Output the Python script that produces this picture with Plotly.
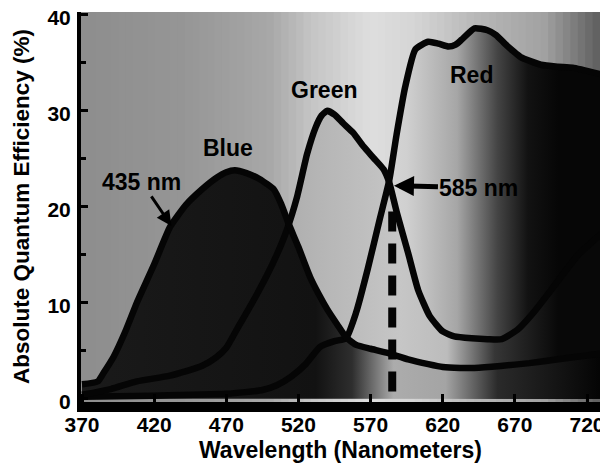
import numpy as np
import plotly.graph_objects as go

# ---- data ----
blue_wl = [370, 381, 385, 392, 400, 408, 420, 431, 442, 453, 463, 470, 476, 484, 493, 503, 508, 513, 520, 528, 534, 540, 547, 553, 560, 570, 581, 596, 610, 620, 632, 642, 660, 680, 700, 730]
blue_qe = [1.5, 1.8, 2.7, 4.4, 7.0, 10.0, 14.0, 17.9, 20.2, 21.8, 23.0, 23.6, 23.8, 23.5, 22.9, 21.8, 20.3, 18.3, 15.8, 12.7, 10.9, 9.3, 7.7, 6.4, 5.6, 5.2, 4.8, 4.1, 3.6, 3.3, 3.2, 3.2, 3.4, 3.7, 4.1, 4.7]

green_wl = [370, 390, 408, 431, 453, 463, 470, 478, 488, 498, 505, 512, 519, 526, 532, 536, 540, 545, 551, 558, 565, 572, 579, 583, 588, 596, 603, 611, 620, 628, 640, 651, 661, 672, 682, 695, 704, 714, 730]
green_qe = [0.4, 1.0, 1.8, 2.4, 3.4, 4.3, 5.3, 7.4, 10.0, 12.8, 15.0, 17.6, 21.0, 25.5, 28.3, 29.5, 30.0, 29.6, 28.7, 27.7, 26.3, 25.1, 23.9, 22.5, 19.5, 15.2, 11.3, 8.6, 7.0, 6.5, 6.3, 6.2, 6.2, 7.2, 8.8, 11.3, 13.1, 15.0, 17.2]

red_wl = [370, 420, 470, 495, 505, 515, 525, 535, 545, 553, 560, 568, 576, 583, 588, 594, 601, 610, 617, 624, 629, 633, 642, 651, 657, 663, 669, 674, 688, 700, 710, 730]
red_qe = [0.2, 0.3, 0.5, 0.9, 1.4, 2.3, 3.6, 5.4, 6.0, 6.3, 9.0, 13.5, 18.5, 22.8, 27.5, 32.5, 36.4, 37.2, 37.0, 36.7, 36.9, 37.4, 38.6, 38.4, 37.9, 37.0, 36.2, 35.6, 34.8, 34.6, 34.5, 33.8]

marker_wl = [585, 585]
marker_qe = [19.5, 0]

x_ticks = [370, 420, 470, 520, 570, 620, 670, 720]
y_ticks = [0, 10, 20, 30, 40]

FONT = "Liberation Sans"
LINE = "#050505"
X_LO, X_HI = 369.3, 729.0
Y_LO, Y_HI = -0.35, 40.3
W, H = 600, 458          # page body has an 8px margin
ML, MR, MT, MB = 73, 8, 4, 64
PW, PH = W - ML - MR, H - MT - MB

fig = go.Figure()

# background shading (style only)
bg_anchor_wl = [370, 440, 500, 530, 570, 600, 640, 690, 730]
bg_anchor_gray = [142, 150, 168, 198, 222, 214, 186, 162, 92]
N = 70
shapes = []
for i in range(N):
    c_wl = X_LO + (i + 0.5) / N * (X_HI - X_LO)
    g = int(np.interp(c_wl, bg_anchor_wl, bg_anchor_gray))
    shapes.append(dict(type="rect", xref="paper", yref="paper", x0=i / N, x1=(i + 1) / N + 0.002,
                       y0=0, y1=1, fillcolor=f"rgb({g},{g},{g})", line=dict(width=0), layer="below"))

SM = 0.5
fig.add_trace(go.Scatter(x=red_wl, y=red_qe, mode="lines", line=dict(width=0, shape="spline", smoothing=SM),
                         fill="tozeroy",
                         fillgradient=dict(type="horizontal", start=560, stop=700,
                                           colorscale=[[0, "#dedede"], [0.25, "#d0d0d0"], [0.5, "#a6a6a6"],
                                                       [0.7, "#444444"], [0.85, "#121212"], [1, "#060606"]]),
                         hoverinfo="skip", showlegend=False))
fig.add_trace(go.Scatter(x=green_wl, y=green_qe, mode="lines", line=dict(width=0, shape="spline", smoothing=SM),
                         fill="tozeroy",
                         fillgradient=dict(type="horizontal", start=480, stop=700,
                                           colorscale=[[0, "#a0a0a0"], [0.2, "#b2b2b2"], [0.5, "#c6c6c6"],
                                                       [0.65, "#bcbcbc"], [0.8, "#363636"], [1, "#080808"]]),
                         hoverinfo="skip", showlegend=False))
fig.add_trace(go.Scatter(x=blue_wl, y=blue_qe, mode="lines", line=dict(width=0, shape="spline", smoothing=SM),
                         fill="tozeroy",
                         fillgradient=dict(type="horizontal", start=370, stop=730,
                                           colorscale=[[0, "#1a1a1a"], [0.45, "#121212"], [0.52, "#2e2e2e"],
                                                       [0.6, "#acacac"], [0.7, "#a4a4a4"], [0.8, "#2a2a2a"],
                                                       [1, "#040404"]]),
                         hoverinfo="skip", showlegend=False))

for xs, ys in [(red_wl, red_qe), (green_wl, green_qe), (blue_wl, blue_qe)]:
    fig.add_trace(go.Scatter(x=xs, y=ys, mode="lines",
                             line=dict(color=LINE, width=6.5, shape="spline", smoothing=SM),
                             hoverinfo="skip", showlegend=False))

fig.add_trace(go.Scatter(x=marker_wl, y=marker_qe, mode="lines",
                         line=dict(color=LINE, width=8, dash="20px,12px"),
                         hoverinfo="skip", showlegend=False))

tfont = dict(family=FONT, size=23, color="#000", weight="bold")
annotations = [
    dict(x=471.5, y=26.1, text="Blue", showarrow=False, font=tfont),
    dict(x=538.0, y=32.2, text="Green", showarrow=False, font=tfont),
    dict(x=640.0, y=33.7, text="Red", showarrow=False, font=tfont),
    dict(x=432, y=18.0, text="435 nm", showarrow=True, ax=-30, ay=-44, arrowhead=2, arrowsize=1,
         arrowwidth=3, arrowcolor="#000", font=tfont),
    dict(x=586.2, y=22.2, text="585 nm", showarrow=True, ax=85, ay=2, arrowhead=2, arrowsize=0.8,
         arrowwidth=5, arrowcolor="#000", font=tfont),
    dict(xref="paper", yref="paper", x=(332 - ML) / PW, y=-(442 - (H - MB)) / PH,
         xanchor="center", yanchor="middle", showarrow=False,
         text="Wavelength (Nanometers)", font=dict(family=FONT, size=23, color="#000", weight="bold")),
    dict(xref="paper", yref="paper", x=(13 - ML) / PW, y=0.5, textangle=-90,
         xanchor="center", yanchor="middle", showarrow=False,
         text="Absolute Quantum Efficiency (%)", font=dict(family=FONT, size=22.5, color="#000", weight="bold")),
]

fig.update_layout(
    width=W, height=H,
    margin=dict(l=ML, r=MR, t=MT, b=MB, autoexpand=False),
    paper_bgcolor="white",
    plot_bgcolor="#a0a0a0",
    shapes=shapes,
    annotations=annotations,
    showlegend=False,
    xaxis=dict(range=[X_LO, X_HI], tickvals=x_ticks, ticktext=[str(v) for v in x_ticks],
               ticks="inside", ticklen=8, tickwidth=3, tickcolor="#000", automargin=False,
               ticklabeloverflow="allow", ticklabelstandoff=-5,
               showline=True, linecolor="#000", linewidth=10, showgrid=False, zeroline=False,
               tickfont=dict(family=FONT, size=21, color="#000", weight="bold")),
    yaxis=dict(range=[Y_LO, Y_HI], tickvals=y_ticks, ticktext=[str(v) for v in y_ticks],
               ticks="inside", ticklen=7, tickwidth=3, tickcolor="#000", automargin=False,
               ticklabelstandoff=2, ticklabeloverflow="allow", ticklabelshift=3,
               minor=dict(dtick=5, tick0=0, ticks="inside", ticklen=5, tickwidth=3, tickcolor="#000"),
               showline=True, linecolor="#000", linewidth=4, showgrid=False, zeroline=False,
               tickfont=dict(family=FONT, size=21, color="#000", weight="bold")),
)

fig.write_html("out.html")
